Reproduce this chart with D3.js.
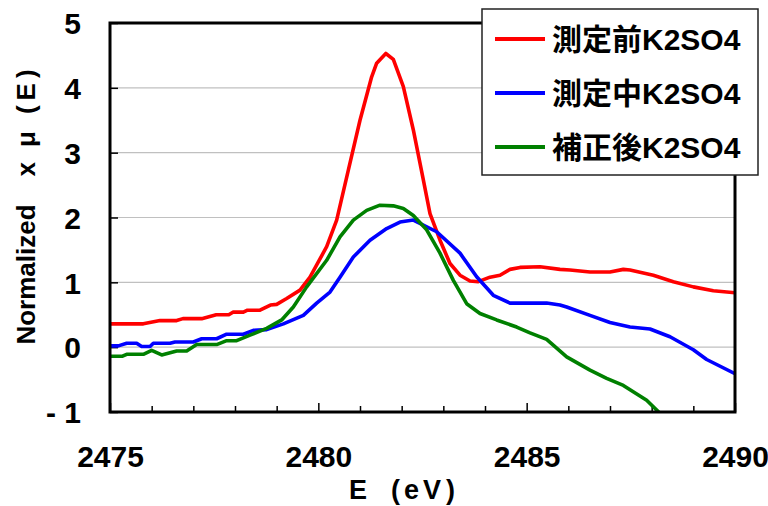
<!DOCTYPE html>
<html>
<head>
<meta charset="utf-8">
<script src="https://cdn.jsdelivr.net/npm/d3@7"></script>
<style>
  body { margin: 0; background: #fff; }
  text { font-family: "Liberation Sans", Arial, "Noto Sans CJK JP", sans-serif; font-weight: bold; fill: #000; }
</style>
</head>
<body>
<div id="chart"></div>
<script>
// Data
var redE = [2475.0, 2475.8, 2476.2, 2476.6, 2476.75, 2477.2, 2477.55, 2477.85, 2477.95, 2478.2, 2478.3, 2478.6, 2478.85, 2479.0, 2479.24, 2479.56, 2479.8, 2480.2, 2480.44, 2480.72, 2481.0, 2481.28, 2481.4, 2481.62, 2481.8, 2482.04, 2482.28, 2482.52, 2482.68, 2482.92, 2483.16, 2483.4, 2483.64, 2483.84, 2484.12, 2484.36, 2484.6, 2484.84, 2485.32, 2485.8, 2486.04, 2486.52, 2487.0, 2487.32, 2487.48, 2488.04, 2488.52, 2489.0, 2489.48, 2490.0];
var redMu = [0.36, 0.36, 0.41, 0.41, 0.44, 0.44, 0.50, 0.50, 0.54, 0.54, 0.57, 0.57, 0.65, 0.66, 0.75, 0.88, 1.08, 1.55, 1.96, 2.73, 3.50, 4.17, 4.38, 4.53, 4.44, 4.02, 3.35, 2.58, 2.06, 1.65, 1.29, 1.11, 1.02, 1.01, 1.08, 1.11, 1.20, 1.23, 1.24, 1.20, 1.19, 1.16, 1.16, 1.20, 1.19, 1.11, 1.01, 0.93, 0.87, 0.84];

var blueE = [2475.0, 2475.2, 2475.4, 2475.64, 2475.76, 2475.96, 2476.04, 2476.44, 2476.56, 2477.0, 2477.2, 2477.56, 2477.8, 2478.2, 2478.44, 2478.76, 2479.16, 2479.64, 2479.96, 2480.28, 2480.52, 2480.84, 2481.24, 2481.64, 2481.96, 2482.28, 2482.84, 2483.4, 2483.8, 2484.2, 2484.6, 2485.48, 2485.8, 2485.96, 2486.52, 2487.0, 2487.48, 2487.96, 2488.44, 2489.0, 2489.32, 2490.0];
var blueMu = [0.02, 0.02, 0.06, 0.06, 0.01, 0.01, 0.06, 0.06, 0.08, 0.08, 0.13, 0.13, 0.20, 0.20, 0.26, 0.27, 0.36, 0.49, 0.68, 0.85, 1.08, 1.39, 1.65, 1.83, 1.93, 1.96, 1.78, 1.45, 1.085, 0.80, 0.68, 0.68, 0.65, 0.62, 0.49, 0.38, 0.31, 0.28, 0.16, -0.04, -0.19, -0.41];

var greenE = [2475.0, 2475.3, 2475.4, 2475.8, 2476.0, 2476.24, 2476.6, 2476.84, 2477.08, 2477.56, 2477.8, 2478.04, 2478.36, 2478.76, 2479.12, 2479.4, 2479.72, 2480.2, 2480.52, 2480.84, 2481.16, 2481.48, 2481.8, 2482.04, 2482.28, 2482.6, 2482.92, 2483.24, 2483.56, 2483.88, 2484.28, 2484.76, 2485.08, 2485.48, 2485.96, 2486.52, 2486.92, 2487.32, 2487.88, 2488.2, 2488.3];
var greenMu = [-0.14, -0.14, -0.11, -0.11, -0.05, -0.12, -0.06, -0.06, 0.04, 0.04, 0.10, 0.10, 0.185, 0.29, 0.42, 0.62, 0.93, 1.34, 1.70, 1.96, 2.11, 2.19, 2.18, 2.14, 2.03, 1.81, 1.45, 1.03, 0.67, 0.52, 0.42, 0.31, 0.22, 0.12, -0.15, -0.355, -0.48, -0.59, -0.82, -1.02, -1.10];

var seriesNames = ["測定前K2SO4", "測定中K2SO4", "補正後K2SO4"];
var seriesColors = ["#ff0000", "#0000ff", "#008000"];
var xTicks = [2475, 2480, 2485, 2490];
var yTicks = [-1, 0, 1, 2, 3, 4, 5];

var series = [
    { name: seriesNames[0], color: seriesColors[0], pts: d3.zip(redE, redMu) },
    { name: seriesNames[1], color: seriesColors[1], pts: d3.zip(blueE, blueMu) },
    { name: seriesNames[2], color: seriesColors[2], pts: d3.zip(greenE, greenMu) }
];

// Dimensions
var W = 768, H = 506;
var m = { left: 110, top: 23, right: 33, bottom: 94 };
var pw = W - m.left - m.right, ph = H - m.top - m.bottom;

var x = d3.scaleLinear().domain([2475, 2490]).range([0, pw]);
var y = d3.scaleLinear().domain([-1, 5]).range([ph, 0]);

var svg = d3.select("#chart").append("svg")
    .attr("width", W)
    .attr("height", H);

var g = svg.append("g").attr("transform", "translate(" + m.left + "," + m.top + ")");

svg.append("defs").append("clipPath").attr("id", "clip")
    .append("rect").attr("width", pw).attr("height", ph);

// grid
g.append("g")
    .selectAll("line")
    .data(yTicks.filter(function(d) { return d > -1 && d < 5; }))
    .enter().append("line")
    .attr("x1", 0).attr("x2", pw)
    .attr("y1", function(d) { return y(d); })
    .attr("y2", function(d) { return y(d); })
    .attr("stroke", "#c0c0c0")
    .attr("stroke-width", 1.2);

// x axis: ticks every 1 eV, inward, labels every 5
var xAxis = d3.axisBottom(x)
    .tickValues(d3.range(2475, 2491, 1))
    .tickSize(-6)
    .tickFormat(function(d) { return xTicks.indexOf(d) >= 0 ? d : ""; });

var gx = g.append("g").attr("transform", "translate(0," + ph + ")").call(xAxis);
gx.select(".domain").remove();
gx.selectAll(".tick line")
    .attr("stroke", "#000")
    .attr("stroke-width", 1.5)
    .attr("y2", function(d) { return d % 5 === 0 ? -9 : -6; });
gx.selectAll(".tick text")
    .attr("y", 34)
    .attr("dy", "0.71em")
    .style("font-size", "30px");

// y axis
var yAxis = d3.axisLeft(y).tickValues(yTicks).tickSize(-8).tickFormat(d3.format("d"));
var gy = g.append("g").call(yAxis);
gy.select(".domain").remove();
gy.selectAll(".tick line").attr("stroke", "#000").attr("stroke-width", 1.5);
gy.selectAll(".tick text")
    .attr("x", -29)
    .attr("dy", "0.36em")
    .style("font-size", "30px")
    .text(function(d) { return d < 0 ? "- " + Math.abs(d) : d; });

// lines
var line = d3.line()
    .x(function(d) { return x(d[0]); })
    .y(function(d) { return y(d[1]); });

g.append("g").attr("clip-path", "url(#clip)")
    .selectAll("path")
    .data(series)
    .enter().append("path")
    .attr("d", function(d) { return line(d.pts); })
    .attr("fill", "none")
    .attr("stroke", function(d) { return d.color; })
    .attr("stroke-width", 3.6)
    .attr("stroke-linejoin", "round");

// frame
g.append("rect")
    .attr("width", pw).attr("height", ph)
    .attr("fill", "none")
    .attr("stroke", "#000")
    .attr("stroke-width", 3);

// axis titles
var xt = svg.append("text")
    .attr("transform", "translate(349,499)")
    .style("font-size", "27px");
xt.append("tspan").text("E");
xt.append("tspan").attr("dx", 24).text("(");
xt.append("tspan").attr("dx", 4).text("e");
xt.append("tspan").attr("dx", 4).text("V");
xt.append("tspan").attr("dx", 5).text(")");

var yt = svg.append("text")
    .attr("transform", "translate(35,207) rotate(-90)")
    .attr("text-anchor", "middle")
    .style("font-size", "26px");
yt.append("tspan").text("Normalized");
yt.append("tspan").attr("dx", 28).text("x");
yt.append("tspan").attr("dx", 15).text("μ");
yt.append("tspan").attr("dx", 17).text("(");
yt.append("tspan").attr("dx", 5).text("E");
yt.append("tspan").attr("dx", 5).text(")");

// legend
var lg = svg.append("g").attr("transform", "translate(482,9)");
lg.append("rect")
    .attr("width", 276).attr("height", 166)
    .attr("fill", "#fff")
    .attr("stroke", "#222")
    .attr("stroke-width", 1.5);

var item = lg.selectAll(".item")
    .data(series)
    .enter().append("g")
    .attr("transform", function(d, i) { return "translate(0," + (30 + i * 54) + ")"; });

item.append("line")
    .attr("x1", 13).attr("x2", 63)
    .attr("stroke", function(d) { return d.color; })
    .attr("stroke-width", 4);

item.append("text")
    .attr("x", 70)
    .attr("dy", "0.36em")
    .style("font-size", "30px")
    .style("font-family", "'Liberation Sans', 'Noto Sans CJK JP', sans-serif")
    .text(function(d) { return d.name; });
</script>
</body>
</html>
